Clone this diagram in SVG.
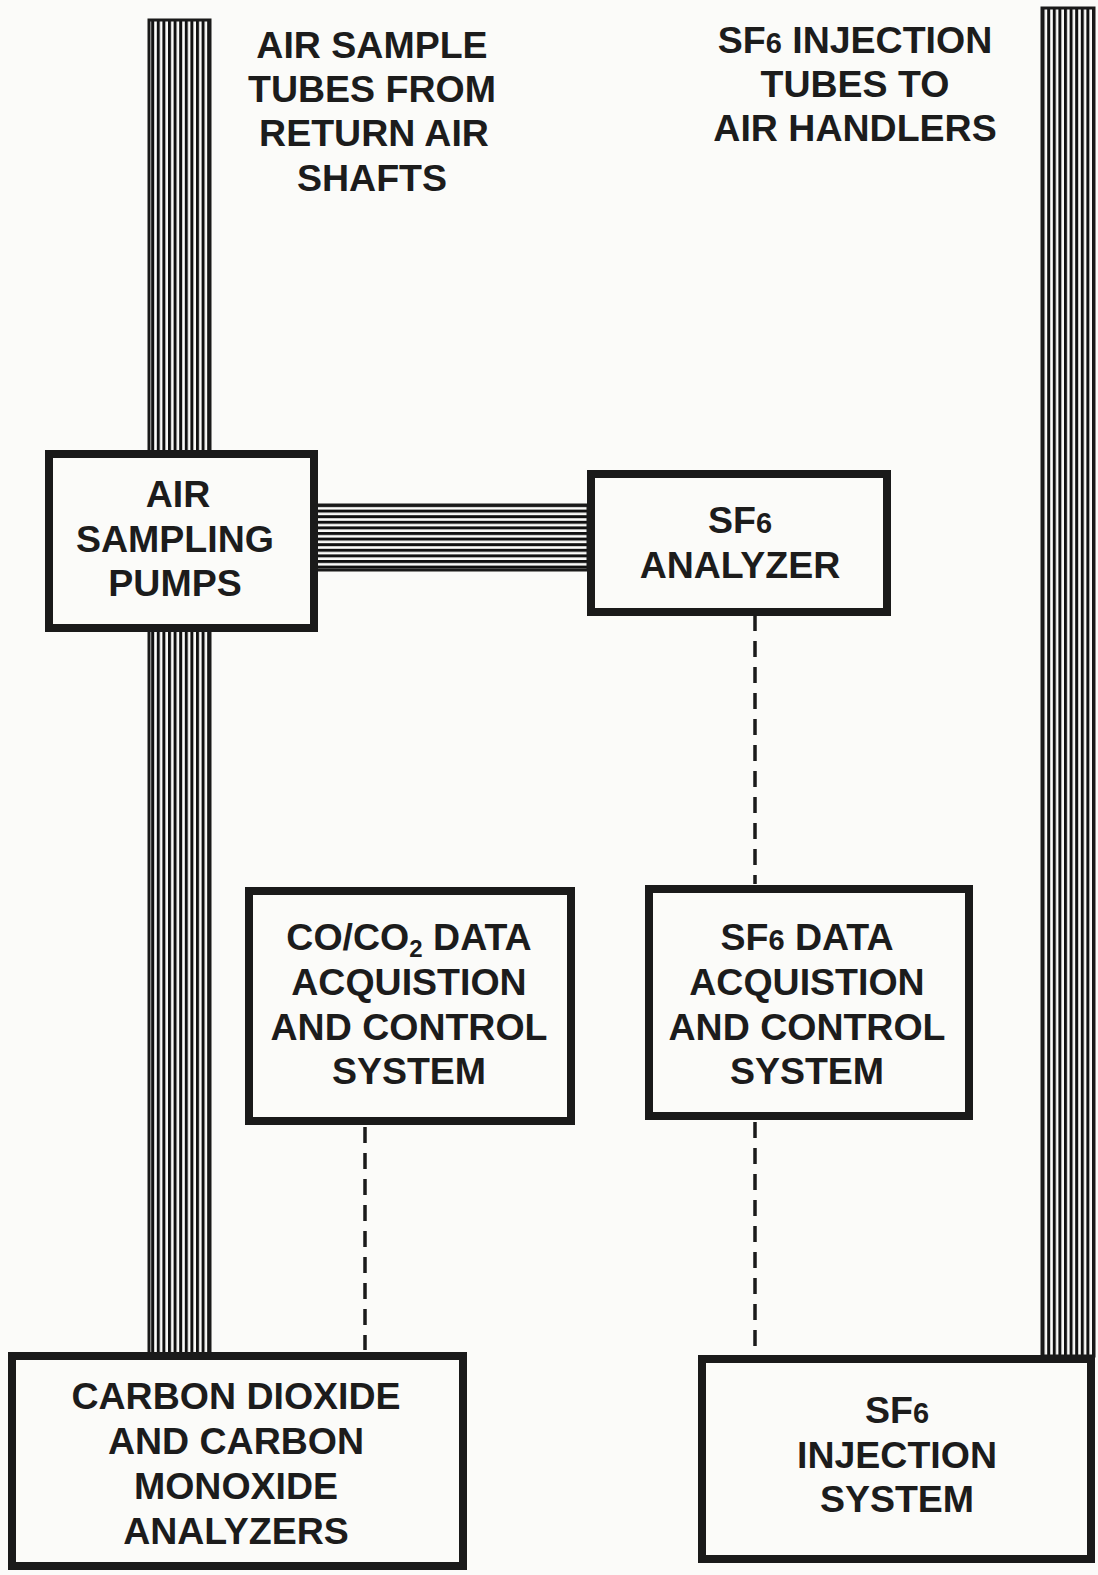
<svg xmlns="http://www.w3.org/2000/svg" width="1098" height="1575" viewBox="0 0 1098 1575">
<style>
.box{fill:#fbfbf9;stroke:#1a1a1a;stroke-width:8}
.t{font-family:"Liberation Sans",Arial,sans-serif;font-weight:bold;font-size:37.5px;fill:#1c1c1c;text-anchor:middle}
.s{font-size:29px}
.dash{stroke:#1a1a1a;stroke-width:3.5;stroke-dasharray:16 10;fill:none}
.tube{stroke:#1a1a1a;stroke-width:3}
</style>
<defs>
<pattern id="vs" patternUnits="userSpaceOnUse" width="5.6" height="10">
<rect x="0" y="0" width="3" height="10" fill="#111"/>
</pattern>
<pattern id="hs" patternUnits="userSpaceOnUse" width="10" height="5.6">
<rect x="0" y="0" width="10" height="3" fill="#111"/>
</pattern>
</defs>
<rect width="1098" height="1575" fill="#fbfbf9"/>
<g id="connectors">
<rect class="tube" x="149" y="20" width="61" height="1334" fill="url(#vs)"/>
<rect class="tube" x="1042" y="8" width="52" height="1348" fill="url(#vs)"/>
<rect class="tube" x="316" y="505" width="272" height="65" fill="url(#hs)"/>
<line class="dash" x1="755" y1="615" x2="755" y2="884"/>
<line class="dash" x1="365" y1="1127" x2="365" y2="1350"/>
<line class="dash" x1="755" y1="1122" x2="755" y2="1352"/>
</g>
<g id="label-air-sample-tubes">
<text class="t" x="372" y="58">AIR SAMPLE</text>
<text class="t" x="372" y="102">TUBES FROM</text>
<text class="t" x="374" y="146">RETURN AIR</text>
<text class="t" x="372" y="191">SHAFTS</text>
</g>
<g id="label-sf6-injection-tubes">
<text class="t" x="855" y="53">SF<tspan class="s">6</tspan> INJECTION</text>
<text class="t" x="855" y="97">TUBES TO</text>
<text class="t" x="855" y="141">AIR HANDLERS</text>
</g>
<g id="air-sampling-pumps">
<rect class="box" x="49" y="454" width="265" height="174"/>
<text class="t" x="178" y="507">AIR</text>
<text class="t" x="175" y="552">SAMPLING</text>
<text class="t" x="175" y="596">PUMPS</text>
</g>
<g id="sf6-analyzer">
<rect class="box" x="591" y="474" width="296" height="138"/>
<text class="t" x="740" y="533">SF<tspan class="s">6</tspan></text>
<text class="t" x="740" y="578">ANALYZER</text>
</g>
<g id="co-co2-daq">
<rect class="box" x="249" y="891" width="322" height="230"/>
<text class="t" x="409" y="950">CO/CO<tspan font-size="24" dy="7">2</tspan><tspan dy="-7"> DATA</tspan></text>
<text class="t" x="409" y="995">ACQUISTION</text>
<text class="t" x="409" y="1040">AND CONTROL</text>
<text class="t" x="409" y="1084">SYSTEM</text>
</g>
<g id="sf6-daq">
<rect class="box" x="649" y="889" width="320" height="227"/>
<text class="t" x="807" y="950">SF<tspan class="s">6</tspan> DATA</text>
<text class="t" x="807" y="995">ACQUISTION</text>
<text class="t" x="807" y="1040">AND CONTROL</text>
<text class="t" x="807" y="1084">SYSTEM</text>
</g>
<g id="co2-co-analyzers">
<rect class="box" x="12" y="1356" width="451" height="210"/>
<text class="t" x="236" y="1409">CARBON DIOXIDE</text>
<text class="t" x="236" y="1454">AND CARBON</text>
<text class="t" x="236" y="1499">MONOXIDE</text>
<text class="t" x="236" y="1544">ANALYZERS</text>
</g>
<g id="sf6-injection-system">
<rect class="box" x="702" y="1359" width="389" height="200"/>
<text class="t" x="897" y="1423">SF<tspan class="s">6</tspan></text>
<text class="t" x="897" y="1468">INJECTION</text>
<text class="t" x="897" y="1512">SYSTEM</text>
</g>
</svg>
